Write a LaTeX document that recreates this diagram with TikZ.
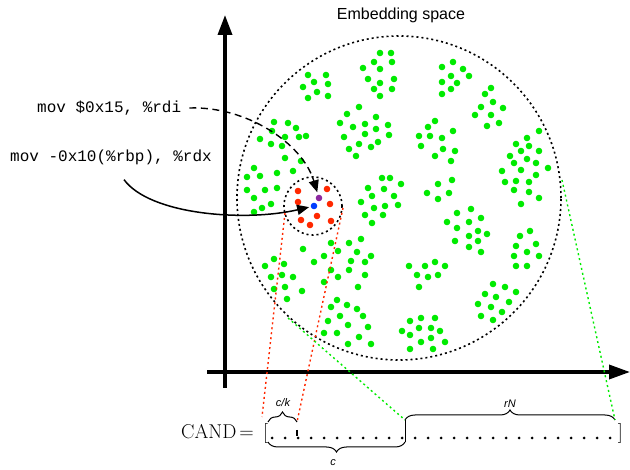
\documentclass[tikz,border=0pt]{standalone}
\usepackage{fontspec}
\newfontfamily\helvfont{Liberation Sans}
\newfontfamily\courfont{Liberation Mono}
\usetikzlibrary{arrows.meta,decorations.pathreplacing}
\definecolor{ptgreen}{RGB}{0,235,0}
\definecolor{ptred}{RGB}{255,40,0}
\definecolor{ptpurple}{RGB}{140,40,160}
\definecolor{ptblue}{RGB}{0,60,255}
\tikzset{
  pt/.style={radius=3.3pt},
  dotline/.style={line width=1.6pt, dash pattern=on 2pt off 3pt},
  bracebox/.style={decorate, decoration={brace, amplitude=10pt}, line width=1pt},
  lbl/.style={font=\helvfont\itshape\fontsize{11}{13}\selectfont, inner sep=1pt},
  code/.style={font=\courfont\fontsize{16}{19}\selectfont, anchor=west},
  bigtext/.style={font=\fontsize{20}{24}\selectfont, inner sep=0},
}
\begin{document}
\begin{tikzpicture}[x=1pt,y=-1pt]
    \useasboundingbox (0,0) rectangle (630,470);
    % Axes
    \draw[line width=3.5pt, -{Triangle[length=20pt,width=14pt]}] (225,388) -- (225,15);
    \draw[line width=3.5pt, -{Triangle[length=21pt,width=14pt]}] (207,372) -- (630,372);
    \node[font=\helvfont\fontsize{16}{19}\selectfont] (title) at (401,15) {Embedding space};

    % Embedding space and candidate neighbourhood
    \coordinate (emb) at (399,198);
    \coordinate (cnd) at (313,206);
    \draw[dotline] (emb) circle[radius=162pt];
    \draw[dotline] (cnd) circle[radius=29pt];

    % Green points, cluster by cluster
    \foreach \x/\y in {308/75,326/75,314/82,328/84,303/87,317/92,308/98,328/96,
        380/53,391/53,374/62,392/62,363/68,380/69,368/79,380/83,394/79,374/89,392/89,380/96,
        274/122,288/123,272/131,296/128,260/139,285/137,299/137,306/136,271/144,282/146,285/158,301/161,
        359/107,347/114,376/117,340/123,353/127,365/124,376/129,388/125,344/137,365/134,389/135,359/144,371/147,378/142,349/149,356/156,
        254/168,247/177,260/176,277/173,293/171,247/190,265/190,277/188,254/198,271/204,262/208,254/212,
        382/178,390/178,368/188,384/189,401/184,372/196,394/196,361/202,374/208,385/206,398/205,365/215,383/215,372/223,
        453/62,442/67,463/69,451/76,469/76,442/82,457/83,451/89,442/94,
        491/88,485/94,493/102,481/107,503/108,475/115,491/115,499/123,487/126,
        435/121,428/127,453/131,419/136,430/136,442/138,421/146,443/149,455/151,435/156,451/161,
        539/131,527/138,516/144,529/146,521/151,539/151,510/156,527/159,514/163,536/163,548/168,502/171,521/170,536/175,505/182,516/181,529/182,514/190,529/192,539/198,521/204,
        438/184,452/180,427/193,449/193,438/199,
        471/209,457/213,481/218,447/222,469/222,457/228,478/231,487/234,469/236,455/241,478/241,469/247,481/252,
        530/231,520/236,536/244,516/246,527/252,514/256,539/256,516/266,527/266,
        409/266,425/266,435/262,445/266,417/275,428/277,438/275,419/287,
        493/284,505/287,485/294,496/297,516/292,478/304,491/307,509/302,502/312,481/316,493/320,
        421/318,435/318,410/321,419/328,431/328,440/331,402/331,410/335,421/342,431/338,445/342,410/349,433/349,
        303/249,274/259,284/264,265/266,282/275,293/277,271/277,285/287,274/289,302/291,287/299,
        331/243,349/243,361/239,338/251,324/256,357/252,371/256,314/262,351/261,365/262,331/270,349/270,338/277,365/275,324/282,358/287,
        337/300,331/307,347/305,357/309,340/316,328/321,363/316,348/325,368/327,324/333,337/333,359/337,348/344,371/344}
        \fill[ptgreen] (\x,\y) circle[pt];

    % Candidates round the query
    \foreach \x/\y in {298/191,327/189,298/202,330/204,317/216,301/220,331/221,310/225}
        \fill[ptred] (\x,\y) circle[pt];
    \coordinate (pur) at (319,198);
    \coordinate (blu) at (314,206);
    \fill[ptpurple] (pur) circle[pt];
    \fill[ptblue] (blu) circle[pt];

    % Instructions
    \node[code, inner xsep=8pt, inner ysep=0pt] (rdi) at (29,108) {mov \$0x15, \%rdi};
    \node[code, inner sep=0pt] (rdx) at (10,157) {mov -0x10(\%rbp), \%rdx};
    \draw[line width=1.4pt, dash pattern=on 7pt off 4.5pt, -{Triangle[length=12pt,width=10pt]}, shorten >=6pt]
        (rdi.east) .. controls (245,106) and (302,142) .. (pur);
    \draw[line width=1.5pt, -{Triangle[length=12pt,width=10pt]}, shorten >=5pt]
        ([shift={(13,15)}]rdx.south) .. controls (150,215) and (245,222) .. (blu);

    % Candidate array
    \node[bigtext, anchor=base west] (cand) at (181,439) {CAND\kern3pt=};
    \node[bigtext, anchor=base west] (lbr) at (263,439) {[};
    \node[bigtext, anchor=base east] (rbr) at (623,439) {]};
    \foreach \i in {0,...,26}
        \fill (272+13*\i,438) circle[radius=1.5pt];
    \coordinate (ckl) at (268,422);
    \coordinate (ckr) at (297,422);
    \coordinate (rnl) at (405,420);
    \coordinate (rnr) at (615,420);
    \coordinate (cl) at (268,442);
    \coordinate (cr) at (405,442);
    \coordinate (lbrt) at (262,417);
    \draw[bracebox] (ckl) -- (ckr);
    \draw[bracebox] (rnl) -- (rnr);
    \draw[bracebox] (cr) -- (cl);
    \draw[line width=1pt] (rnl) -- (cr);
    \draw[line width=1.2pt] (297,430) -- (297,436);
    \node[lbl] (ck) at (283,403) {c/k};
    \node[lbl] (rn) at (510,404) {rN};
    \node[lbl] (c) at (333,463) {c};

    % Projections onto the array
    \coordinate (cndw) at (285,213);
    \coordinate (cnde) at (343,208);
    \coordinate (embsw) at (288,318);
    \coordinate (embe) at (562,180);
    \draw[dotline, ptred, line width=1.4pt] (cndw) -- (lbrt);
    \draw[dotline, ptred, line width=1.4pt] (cnde) -- (ckr);
    \draw[dotline, ptgreen, line width=1.4pt] (embsw) -- (rnl);
    \draw[dotline, ptgreen, line width=1.4pt] (embe) -- (rnr);
\end{tikzpicture}
\end{document}
